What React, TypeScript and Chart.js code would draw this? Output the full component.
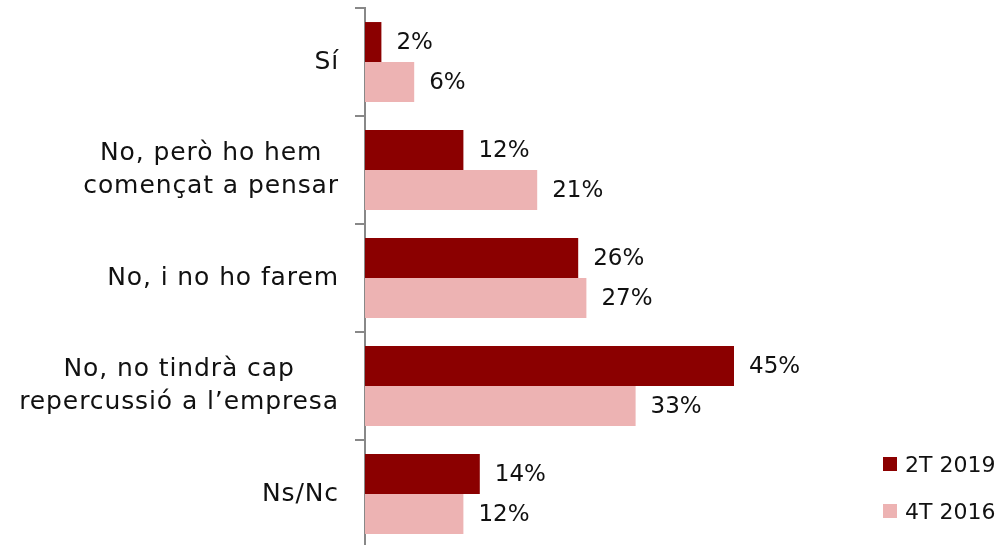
import React, { useEffect, useRef } from "react";
import { Chart, registerables } from "chart.js";

Chart.register(...registerables);

const categories: string[][] = [
  ["Sí"],
  ["No, però ho hem", "començat a pensar"],
  ["No, i no ho farem"],
  ["No, no tindrà cap", "repercussió a l’empresa"],
  ["Ns/Nc"],
];
const seriesNames = ["2T 2019", "4T 2016"];
const values2019 = [2, 12, 26, 45, 14];
const values2016 = [6, 21, 27, 33, 12];
const colors = ["#8B0000", "#EDB3B3"];

const FONT = "'DejaVu Sans', sans-serif";

const labelPlugin = {
  id: "customLabels",
  afterDatasetsDraw(chart: any) {
    const ctx = chart.ctx;
    ctx.save();
    ctx.fillStyle = "#111";
    ctx.font = `23px ${FONT}`;
    ctx.textAlign = "left";
    ctx.textBaseline = "middle";
    chart.data.datasets.forEach((ds: any, di: number) => {
      const meta = chart.getDatasetMeta(di);
      meta.data.forEach((el: any, i: number) => {
        ctx.fillText(`${ds.data[i]}%`, el.x + 15, el.y + 1);
      });
    });
    ctx.restore();
    // y category labels: block right-aligned, lines centered within block
    ctx.save();
    const yScale = chart.scales.y;
    ctx.fillStyle = "#111";
    ctx.font = `25px ${FONT}`;
    (ctx as any).letterSpacing = "0.9px";
    ctx.textAlign = "center";
    ctx.textBaseline = "middle";
    const right = chart.chartArea.left - 26;
    const lineH = 33;
    categories.forEach((lines, i) => {
      const cy = yScale.getPixelForValue(i);
      const w = Math.max(...lines.map((l) => ctx.measureText(l).width));
      const cx = right - w / 2;
      const start = cy - ((lines.length - 1) * lineH) / 2;
      lines.forEach((l, j) => ctx.fillText(l, cx, start + j * lineH));
    });
    ctx.restore();
  },
};

export default function App() {
  const ref = useRef<HTMLCanvasElement>(null);
  useEffect(() => {
    if (!ref.current) return;
    const chart = new Chart(ref.current, {
      type: "bar",
      data: {
        labels: categories.map((c) => c.join(" ")),
        datasets: [
          { label: seriesNames[0], data: values2019, backgroundColor: colors[0], categoryPercentage: 0.74, barPercentage: 1 },
          { label: seriesNames[1], data: values2016, backgroundColor: colors[1], categoryPercentage: 0.74, barPercentage: 1 },
        ],
      },
      options: {
        indexAxis: "y",
        animation: false,
        responsive: false,
        maintainAspectRatio: false,
        layout: { padding: { top: 8, right: 225, bottom: 0, left: 0 } },
        plugins: { legend: { display: false }, tooltip: { enabled: false } },
        scales: {
          x: { display: false, min: 0, max: 50 },
          y: {
            afterFit: (s: any) => { s.width = 365; },
            ticks: { display: false },
            grid: { drawOnChartArea: false, tickLength: 10, color: "#888", lineWidth: 2 },
            border: { color: "#888", width: 2 },
          },
        },
      },
      plugins: [labelPlugin],
    });
    return () => chart.destroy();
  }, []);
  return (
    <div style={{ position: "fixed", left: 0, top: 0, width: 1000, height: 545, overflow: "hidden", background: "#fff" }}>
      <canvas ref={ref} width={1000} height={548} style={{ display: "block" }} />
      <div style={{ position: "absolute", left: 883, top: 449, fontFamily: FONT, fontSize: 22, color: "#111" }}>
        {seriesNames.map((n, i) => (
          <div key={n} style={{ display: "flex", alignItems: "center", height: 30, marginBottom: i === 0 ? 17 : 0 }}>
            <span style={{ display: "inline-block", width: 14, height: 14, background: colors[i], marginRight: 8 }} />
            <span>{n}</span>
          </div>
        ))}
      </div>
    </div>
  );
}
